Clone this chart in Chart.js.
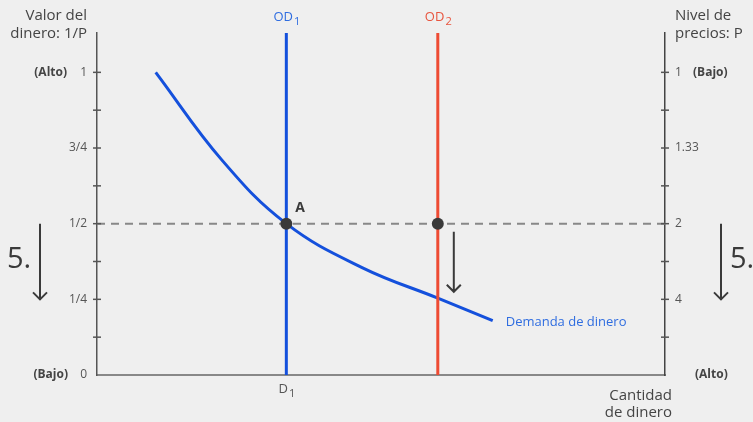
<!DOCTYPE html>
<html lang="es">
<head>
<meta charset="UTF-8">
<title>Valor del dinero y nivel de precios</title>
<script src="https://cdn.jsdelivr.net/npm/chart.js"></script>
<style>
  html, body { margin:0; padding:0; background:#efefef; }
  #wrap { width:753px; height:422px; }
</style>
</head>
<body>
<div id="wrap"><canvas id="chart" width="753" height="422"></canvas></div>
<script>
// Datos del gráfico
const yTicks = [0, 0.125, 0.25, 0.375, 0.5, 0.625, 0.75, 0.875, 1];
const leftLabels = ['0', '', '1/4', '', '1/2', '', '3/4', '', '1'];
const rightLabels = ['', '', '4', '', '2', '', '1.33', '', '1'];
const demandX = [0.31, 0.66, 1.0, 1.4, 1.8, 2.09];
const demandY = [1.0, 0.71, 0.5, 0.355, 0.254, 0.18];
const od1 = 1, od2 = 1.8;
const eqValue = 0.5;
const yTop = 1.13, xMax = 3;

const BLUE = '#1450dc', RED = '#ee4b33', TXT = '#555';
const FONT = '"Open Sans", "Noto Sans", sans-serif';

const demand = demandX.map((x, i) => ({ x, y: demandY[i] }));

// texto con subíndice
function subText(ctx, main, sub, x, y, size, color, align) {
  ctx.save();
  ctx.fillStyle = color;
  ctx.textBaseline = 'alphabetic';
  ctx.font = size + 'px ' + FONT;
  const w1 = ctx.measureText(main).width;
  ctx.font = (size * 0.85) + 'px ' + FONT;
  const w2 = ctx.measureText(sub).width;
  let x0 = align === 'center' ? x - (w1 + w2) / 2 : x;
  ctx.textAlign = 'left';
  ctx.font = size + 'px ' + FONT;
  ctx.fillText(main, x0, y);
  ctx.font = (size * 0.85) + 'px ' + FONT;
  ctx.fillText(sub, x0 + w1 + 1, y + size * 0.3);
  ctx.restore();
}

function arrow(ctx, x, y1, y2) {
  ctx.save();
  ctx.strokeStyle = '#3a3a3a';
  ctx.lineWidth = 2;
  ctx.beginPath();
  ctx.moveTo(x, y1); ctx.lineTo(x, y2);
  ctx.moveTo(x - 7, y2 - 7); ctx.lineTo(x, y2); ctx.lineTo(x + 7, y2 - 7);
  ctx.stroke();
  ctx.restore();
}

const decor = {
  id: 'decor',
  beforeDraw(chart) {
    const ctx = chart.ctx;
    ctx.save();
    ctx.fillStyle = '#efefef';
    ctx.fillRect(0, 0, chart.width, chart.height);
    ctx.restore();
  },
  afterDraw(chart) {
    const ctx = chart.ctx;
    const xs = chart.scales.x, ys = chart.scales.y;
    const area = chart.chartArea;
    const yEq = ys.getPixelForValue(eqValue);

    // marcas de los ejes
    ctx.save();
    ctx.strokeStyle = '#555';
    ctx.lineWidth = 1.5;
    yTicks.forEach(v => {
      if (v === 0) return;
      const py = ys.getPixelForValue(v);
      [area.left, area.right].forEach(px => {
        ctx.beginPath();
        ctx.moveTo(px - 4, py); ctx.lineTo(px + 4, py);
        ctx.stroke();
      });
    });
    ctx.restore();

    // títulos de los ejes
    ctx.save();
    ctx.fillStyle = '#444';
    ctx.font = '15px ' + FONT;
    ctx.textBaseline = 'middle';
    ctx.textAlign = 'right';
    ctx.fillText('Valor del', 87, 16);
    ctx.fillText('dinero: 1/P', 87, 34);
    ctx.textAlign = 'left';
    ctx.fillText('Nivel de', 675, 16);
    ctx.fillText('precios: P', 675, 34);
    ctx.textAlign = 'right';
    ctx.fillText('Cantidad', 672, 396);
    ctx.fillText('de dinero', 672, 413);

    ctx.font = 'bold 12px ' + FONT;
    ctx.textAlign = 'right';
    ctx.fillText('(Alto)', 67, ys.getPixelForValue(1));
    ctx.fillText('(Bajo)', 68, ys.getPixelForValue(0));
    ctx.textAlign = 'left';
    ctx.fillText('(Bajo)', 693, ys.getPixelForValue(1));
    ctx.fillText('(Alto)', 695, ys.getPixelForValue(0));

    // punto A
    ctx.font = 'bold 14px ' + FONT;
    ctx.fillStyle = '#3a3a3a';
    ctx.fillText('A', xs.getPixelForValue(od1) + 9, yEq - 16);

    // etiqueta de la curva
    const last = demand[demand.length - 1];
    ctx.font = '13px ' + FONT;
    ctx.fillStyle = '#2f6de0';
    ctx.fillText('Demanda de dinero', xs.getPixelForValue(last.x) + 13, ys.getPixelForValue(last.y) + 2);

    // "5."
    ctx.font = '29px ' + FONT;
    ctx.fillStyle = '#3a3a3a';
    ctx.textAlign = 'left';
    ctx.fillText('5.', 7, yEq + 36);
    ctx.fillText('5.', 730, yEq + 36);
    ctx.restore();

    subText(ctx, 'OD', '1', xs.getPixelForValue(od1), 21, 13, '#2f6de0', 'center');
    subText(ctx, 'OD', '2', xs.getPixelForValue(od2), 21, 13, '#e8553f', 'center');
    subText(ctx, 'D', '1', xs.getPixelForValue(od1), 393, 13, TXT, 'center');

    // flechas
    arrow(ctx, xs.getPixelForValue(od2) + 16, yEq + 8, ys.getPixelForValue(0.275));
    arrow(ctx, 40, yEq, ys.getPixelForValue(0.25));
    arrow(ctx, 721, yEq, ys.getPixelForValue(0.25));
  }
};

new Chart(document.getElementById('chart'), {
  type: 'scatter',
  data: {
    datasets: [
      { data: [{ x: od1, y: eqValue }, { x: od2, y: eqValue }], pointRadius: 6, pointHoverRadius: 6,
        pointBackgroundColor: '#3a3a3a', pointBorderWidth: 0, showLine: false },
      { data: [{ x: od2, y: 0 }, { x: od2, y: yTop }], showLine: true, borderColor: RED, borderWidth: 3,
        pointRadius: 0, clip: false },
      { data: [{ x: od1, y: 0 }, { x: od1, y: yTop }], showLine: true, borderColor: BLUE, borderWidth: 3,
        pointRadius: 0, clip: false },
      { data: demand, showLine: true, borderColor: BLUE, borderWidth: 3, pointRadius: 0,
        tension: 0.4, borderCapStyle: 'butt' },
      { data: [{ x: 0, y: eqValue }, { x: xMax, y: eqValue }], showLine: true, borderColor: '#888',
        borderWidth: 2, borderDash: [8, 6], pointRadius: 0 }
    ]
  },
  options: {
    responsive: false,
    animation: false,
    devicePixelRatio: 1,
    layout: { padding: { top: 33, left: 0, right: 0, bottom: 0 } },
    plugins: { legend: { display: false }, tooltip: { enabled: false } },
    scales: {
      x: {
        min: 0, max: xMax,
        grid: { display: false, drawTicks: false },
        border: { color: '#888', width: 2 },
        ticks: { display: false },
        afterFit: s => { s.height = 47; }
      },
      y: {
        position: 'left', min: 0, max: yTop,
        afterBuildTicks: s => { s.ticks = yTicks.map(v => ({ value: v })); },
        afterFit: s => { s.width = 97; },
        grid: { display: false, drawTicks: false },
        border: { color: '#555', width: 1.5 },
        ticks: { autoSkip: false, padding: 10, color: TXT, font: { size: 12, family: FONT },
          callback: (v, i) => leftLabels[i] }
      },
      y2: {
        position: 'right', min: 0, max: yTop,
        afterBuildTicks: s => { s.ticks = yTicks.map(v => ({ value: v })); },
        afterFit: s => { s.width = 88; },
        grid: { display: false, drawTicks: false },
        border: { color: '#444', width: 1.5 },
        ticks: { autoSkip: false, padding: 10, color: TXT, font: { size: 12, family: FONT },
          callback: (v, i) => rightLabels[i] }
      }
    }
  },
  plugins: [decor]
});
</script>
</body>
</html>
